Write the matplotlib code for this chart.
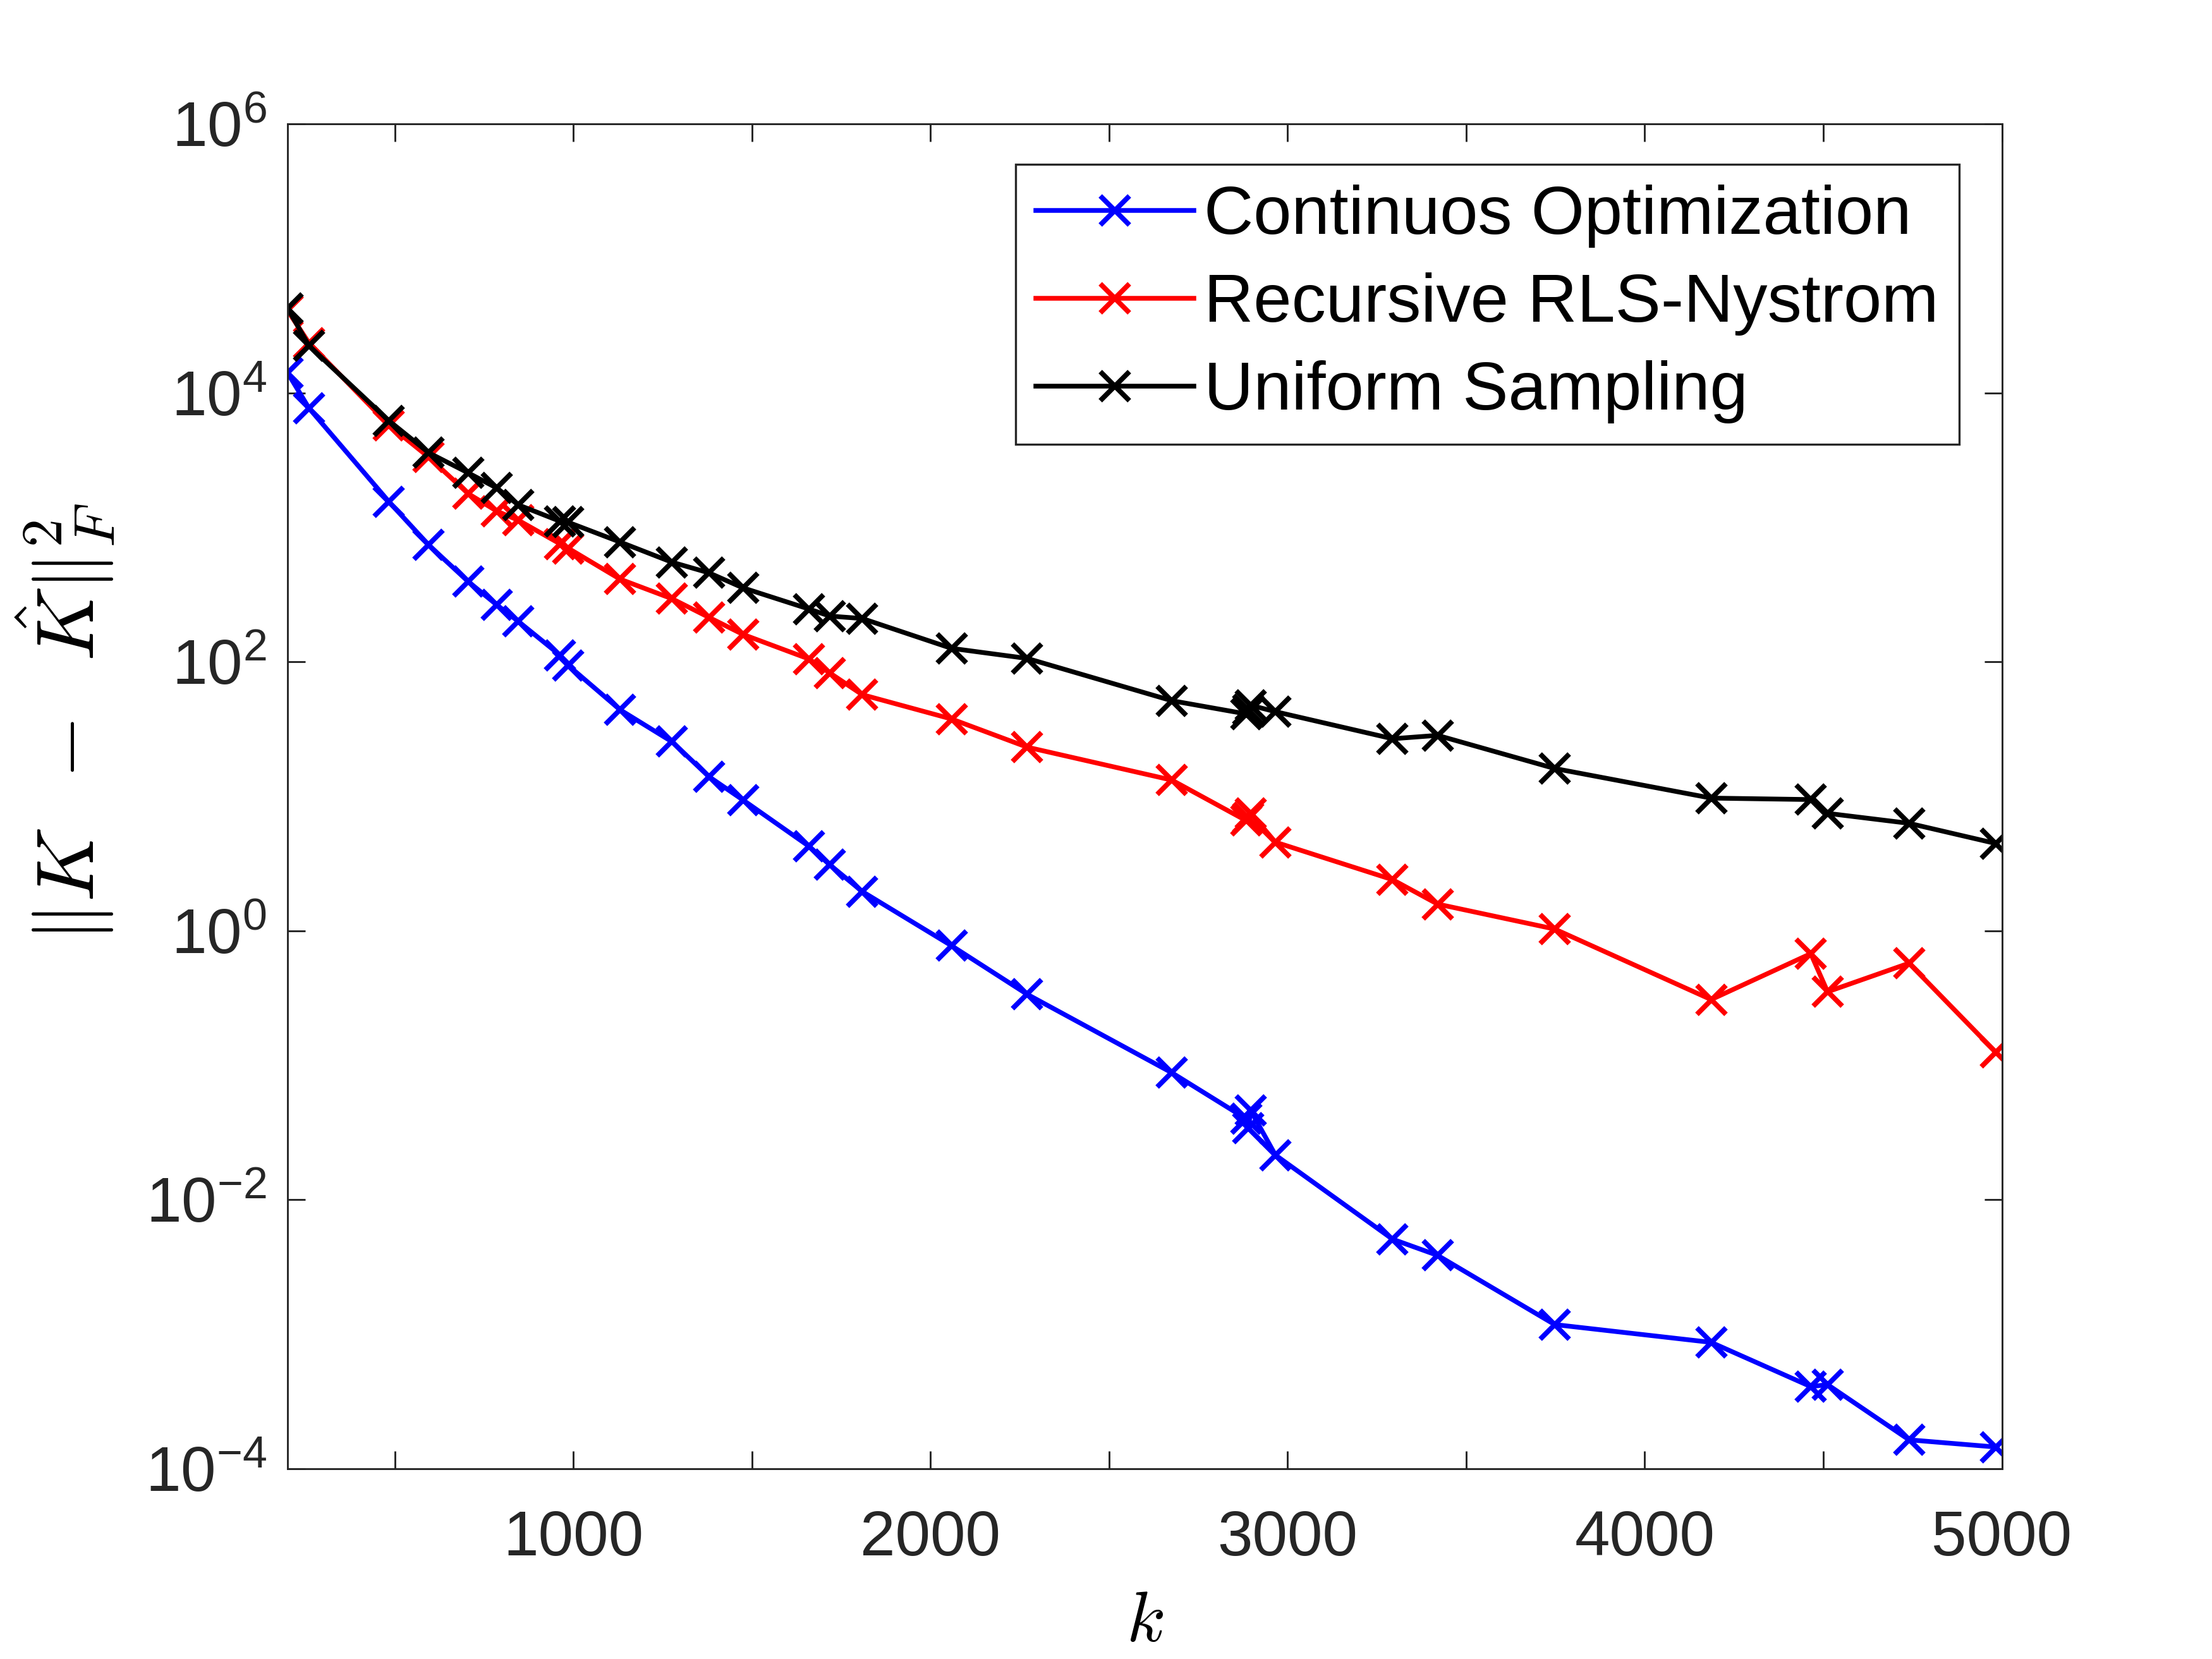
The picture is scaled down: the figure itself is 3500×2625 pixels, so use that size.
import matplotlib
matplotlib.use('Agg')
import matplotlib.pyplot as plt
from matplotlib.ticker import FixedLocator, MultipleLocator, NullLocator

plt.rcParams['font.family'] = ['Liberation Sans', 'DejaVu Sans']
plt.rcParams['mathtext.fontset'] = 'cm'
plt.rcParams['axes.unicode_minus'] = False

# k values (shared by all three methods)
k = [200, 260, 484, 595, 706, 786, 846, 963, 986, 1131, 1276, 1380, 1475,
     1660, 1718, 1809, 2059, 2271, 2676, 2884, 2890, 2897, 2966, 3294, 3420,
     3748, 4186, 4465, 4512, 4740, 4983]

err_continuous = [1.41e4, 7.7e3, 1.55e3, 740, 395, 265, 200, 112, 94, 44,
                  25.5, 14, 9.4, 4.25, 3.1, 1.96, 0.775, 0.337, 0.088,
                  0.040, 0.034, 0.046, 0.0215, 0.00509, 0.00386, 0.00118,
                  0.00087, 0.000408, 0.000422, 1.64e-4, 1.45e-4]

err_rls = [4.1e4, 2.35e4, 5.76e3, 3.33e3, 1.78e3, 1.32e3, 1.13e3, 754, 699,
           412, 295, 214, 160, 105, 82.8, 57, 37.6, 23.2, 13.2, 6.6, 6.9,
           7.5, 4.56, 2.40, 1.58, 1.03, 0.308, 0.676, 0.352, 0.574, 0.125]

err_uniform = [4.27e4, 2.24e4, 6.2e3, 3.59e3, 2.54e3, 1.96e3, 1.47e3, 1.11e3,
               1.09e3, 778, 551, 459, 355, 247, 219, 210, 126, 106, 51.4,
               41, 44, 47.5, 42.6, 26.8, 28.4, 16.1, 9.7, 9.46, 7.47, 6.3,
               4.46]

labels = ['Continuos Optimization', 'Recursive RLS-Nystrom', 'Uniform Sampling']
y_ticks = [1e-4, 1e-2, 1e0, 1e2, 1e4, 1e6]
x_ticks = [1000, 2000, 3000, 4000, 5000]

axis_col = '#262626'

fig = plt.figure(figsize=(3500 / 300, 2625 / 300), dpi=300)
ax = fig.add_axes([0.13, 0.1147, 0.775, 0.8106])

style = dict(lw=1.8, marker='x', ms=11, mew=1.9)
ax.plot(k, err_continuous, color=(0, 0, 1), label=labels[0], **style)
ax.plot(k, err_rls, color=(1, 0, 0), label=labels[1], **style)
ax.plot(k, err_uniform, color='black', label=labels[2], **style)

ax.set_yscale('log')
ax.set_xlim(200, 5000)
ax.set_ylim(1e-4, 1e6)
ax.yaxis.set_major_locator(FixedLocator(y_ticks))
ax.yaxis.set_minor_locator(NullLocator())
ax.xaxis.set_major_locator(FixedLocator(x_ticks))
ax.xaxis.set_minor_locator(MultipleLocator(500))

for sp in ax.spines.values():
    sp.set_color(axis_col)
    sp.set_linewidth(0.7)

ax.tick_params(which='both', direction='in', top=True, right=True,
               length=6.7, width=0.7, color=axis_col)
ax.tick_params(axis='x', which='major', labelsize=24, labelcolor=axis_col, pad=15.5)
ax.tick_params(axis='y', which='major', labelsize=24, labelcolor=axis_col, pad=8)

ax.set_xlabel(r'$k$', fontsize=27)
ax.set_ylabel(r'$\|K\;\;-\;\;\hat{K}\|_{F}^{2}$', fontsize=31)
ax.xaxis.set_label_coords(0.5, -0.09)
ax.yaxis.set_label_coords(-0.100, 0.555)

leg = ax.legend(loc='upper right', bbox_to_anchor=(0.975, 0.970), borderaxespad=0,
                fontsize=26, fancybox=False, framealpha=1, edgecolor=axis_col,
                handlelength=2.3, handletextpad=0.15, labelspacing=0.36,
                borderpad=0.3)
leg.get_frame().set_linewidth(0.8)

fig.savefig('out.png', dpi=300, facecolor='white')
